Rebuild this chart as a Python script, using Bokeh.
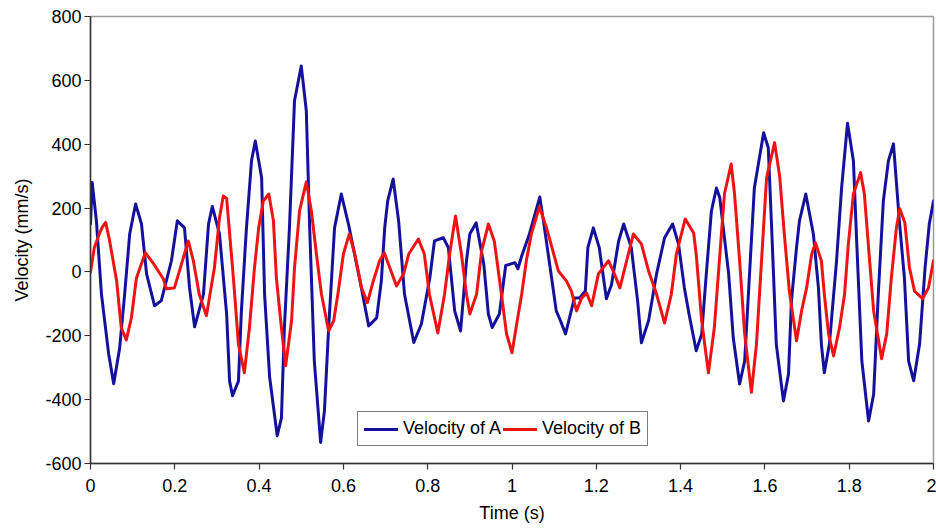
from bokeh.plotting import figure
from bokeh.models import Range1d, FixedTicker, NumeralTickFormatter, Legend, LegendItem
from bokeh.embed import file_html
from bokeh.resources import INLINE

time_a = [0.000, 0.004, 0.014, 0.026, 0.043, 0.055, 0.069, 0.081, 0.093, 0.107, 0.121, 0.133, 0.152, 0.168,
          0.192, 0.206, 0.223, 0.235, 0.247, 0.268, 0.280, 0.289, 0.306, 0.323, 0.330, 0.337, 0.351, 0.358,
          0.370, 0.382, 0.391, 0.406, 0.413, 0.425, 0.443, 0.453, 0.460, 0.472, 0.484, 0.500, 0.512, 0.520,
          0.531, 0.546, 0.555, 0.565, 0.579, 0.595, 0.612, 0.638, 0.660, 0.679, 0.690, 0.698, 0.705, 0.718,
          0.731, 0.745, 0.767, 0.785, 0.805, 0.816, 0.837, 0.849, 0.864, 0.878, 0.892, 0.900, 0.915, 0.933,
          0.944, 0.953, 0.970, 0.985, 1.007, 1.014, 1.023, 1.040, 1.066, 1.077, 1.094, 1.105, 1.115, 1.127,
          1.148, 1.160, 1.174, 1.180, 1.193, 1.207, 1.224, 1.236, 1.253, 1.265, 1.283, 1.298, 1.307, 1.324,
          1.343, 1.362, 1.381, 1.395, 1.409, 1.420, 1.437, 1.450, 1.461, 1.473, 1.485, 1.493, 1.514, 1.525,
          1.540, 1.552, 1.563, 1.575, 1.597, 1.608, 1.616, 1.627, 1.644, 1.656, 1.663, 1.675, 1.682, 1.697,
          1.715, 1.727, 1.734, 1.741, 1.753, 1.770, 1.782, 1.796, 1.810, 1.818, 1.830, 1.846, 1.858, 1.869,
          1.881, 1.893, 1.905, 1.919, 1.931, 1.941, 1.953, 1.967, 1.980, 1.990, 2.000]
vel_a = [150, 280, 160, -70, -256, -350, -240, -70, 119, 213, 150, -6, -106, -90,
         35, 160, 138, -50, -172, -70, 150, 205, 119, -132, -342, -388, -342, -122,
         138, 348, 410, 295, -70, -330, -513, -457, -175, 138, 536, 645, 505, 138,
         -279, -534, -435, -175, 138, 244, 150, -19, -169, -144, -28, 138, 222, 291,
         160, -70, -221, -163, -19, 97, 107, 76, -122, -185, 35, 119, 154, 25,
         -132, -174, -132, 20, 29, 10, 50, 113, 235, 138, -19, -122, -153, -194,
         -82, -82, -60, 76, 138, 76, -84, -40, 97, 150, 76, -90, -222, -153,
         -6, 107, 150, 88, -50, -132, -247, -195, -6, 190, 263, 232, -6, -207,
         -351, -279, -19, 263, 436, 389, 138, -226, -404, -320, -90, 76, 160, 244,
         119, -50, -226, -316, -226, 35, 263, 466, 348, 88, -279, -467, -383, -70,
         222, 348, 401, 160, -19, -279, -341, -226, 13, 150, 222]

time_b = [0.000, 0.009, 0.021, 0.028, 0.036, 0.045, 0.062, 0.073, 0.085, 0.097, 0.109, 0.130, 0.150, 0.173,
          0.180, 0.199, 0.209, 0.232, 0.244, 0.258, 0.275, 0.294, 0.306, 0.315, 0.323, 0.339, 0.351, 0.365,
          0.377, 0.389, 0.399, 0.410, 0.423, 0.434, 0.441, 0.453, 0.463, 0.477, 0.484, 0.496, 0.512, 0.524,
          0.536, 0.548, 0.565, 0.577, 0.588, 0.600, 0.614, 0.627, 0.643, 0.657, 0.671, 0.686, 0.697, 0.726,
          0.743, 0.755, 0.778, 0.792, 0.804, 0.824, 0.840, 0.852, 0.866, 0.880, 0.892, 0.900, 0.916, 0.928,
          0.944, 0.958, 0.975, 0.987, 1.000, 1.015, 1.023, 1.034, 1.046, 1.065, 1.082, 1.099, 1.110, 1.129,
          1.141, 1.153, 1.165, 1.177, 1.189, 1.205, 1.229, 1.243, 1.256, 1.272, 1.288, 1.307, 1.324, 1.343,
          1.362, 1.378, 1.390, 1.411, 1.431, 1.437, 1.450, 1.466, 1.480, 1.492, 1.504, 1.520, 1.528, 1.540,
          1.552, 1.568, 1.580, 1.592, 1.604, 1.623, 1.635, 1.646, 1.658, 1.675, 1.687, 1.699, 1.711, 1.720,
          1.734, 1.741, 1.751, 1.763, 1.777, 1.789, 1.798, 1.810, 1.827, 1.836, 1.846, 1.858, 1.877, 1.889,
          1.900, 1.912, 1.920, 1.932, 1.943, 1.955, 1.974, 1.988, 2.000]
vel_b = [0, 76, 119, 140, 155, 100, -28, -175, -213, -144, -19, 60, 25, -22,
         -53, -50, -6, 97, 35, -70, -137, 13, 169, 238, 230, -19, -226, -316,
         -175, 13, 138, 222, 244, 160, -19, -175, -294, -153, 13, 191, 282, 191,
         56, -70, -185, -153, -60, 56, 119, 56, -50, -96, -28, 35, 60, -44,
         -6, 56, 103, 56, -70, -191, -70, 56, 175, 56, -70, -132, -70, 66,
         150, 97, -70, -194, -253, -132, -70, 35, 119, 204, 138, 56, 3, -28,
         -60, -122, -82, -66, -106, -6, 35, -6, -50, 35, 119, 88, 3, -70,
         -160, -70, 56, 166, 122, 56, -153, -316, -175, 35, 244, 338, 244, 35,
         -194, -377, -226, 35, 295, 405, 300, 120, -60, -216, -122, -50, 56, 91,
         35, -70, -194, -263, -175, -70, 88, 244, 311, 244, 76, -122, -272, -194,
         -19, 138, 198, 154, 13, -60, -84, -50, 35]

x_ticks = [0, 0.2, 0.4, 0.6, 0.8, 1.0, 1.2, 1.4, 1.6, 1.8, 2.0]
y_ticks = [-600, -400, -200, 0, 200, 400, 600, 800]
series_names = ["Velocity of A", "Velocity of B"]

FONT = "Liberation Sans"

p = figure(width=936, height=529, output_backend="svg", toolbar_location=None,
           x_range=Range1d(0, 2), y_range=Range1d(-600, 800))
p.min_border_left = 90
p.min_border_right = 3
p.min_border_top = 16
p.min_border_bottom = 66
p.background_fill_color = "white"
p.border_fill_color = "white"
p.outline_line_color = "#9a9a9a"
p.outline_line_width = 1.5
p.grid.visible = False

la = p.line(time_a, vel_a, line_color="#14119c", line_width=3, line_join="round", line_cap="round")
lb = p.line(time_b, vel_b, line_color="#ee1414", line_width=3, line_join="round", line_cap="round")

for ax in (p.xaxis[0], p.yaxis[0]):
    ax.axis_line_color = "#333333"
    ax.axis_line_width = 1.5
    ax.major_tick_line_color = "#333333"
    ax.major_tick_line_width = 1.2
    ax.major_tick_in = 0
    ax.major_tick_out = 6
    ax.minor_tick_line_color = None
    ax.major_label_text_font = FONT
    ax.major_label_text_font_size = "18px"
    ax.major_label_text_color = "black"
    ax.axis_label_text_font = FONT
    ax.axis_label_text_font_size = "18px"
    ax.axis_label_text_font_style = "normal"
    ax.axis_label_text_color = "black"

p.xaxis.ticker = FixedTicker(ticks=x_ticks)
p.xaxis.formatter = NumeralTickFormatter(format="0.[0]")
p.xaxis.axis_label = "Time (s)"
p.xaxis.major_label_standoff = 9
p.xaxis.axis_label_standoff = 8

p.yaxis.ticker = FixedTicker(ticks=y_ticks)
p.yaxis.formatter = NumeralTickFormatter(format="0")
p.yaxis.axis_label = "Velocity (mm/s)"
p.yaxis.major_label_standoff = 3
p.yaxis.axis_label_standoff = 10

legend = Legend(items=[LegendItem(label=series_names[0], renderers=[la]),
                       LegendItem(label=series_names[1], renderers=[lb])],
                location=(267, 17), orientation="horizontal")
legend.label_text_font = FONT
legend.label_text_font_size = "18px"
legend.label_text_color = "black"
legend.border_line_color = "black"
legend.border_line_width = 1
legend.background_fill_color = "white"
legend.background_fill_alpha = 1
legend.padding = 6
legend.spacing = 2
legend.margin = 0
legend.glyph_width = 34
legend.glyph_height = 20
legend.label_standoff = 5
legend.label_height = 20
p.add_layout(legend)

open("out.html", "w").write(file_html(p, INLINE))
